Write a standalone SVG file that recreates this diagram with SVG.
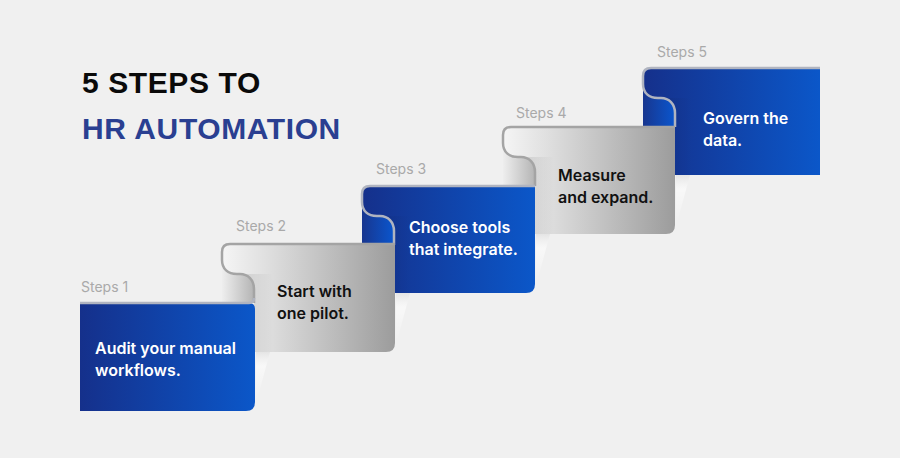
<svg xmlns="http://www.w3.org/2000/svg" width="900" height="458" viewBox="0 0 900 458">
<defs>
<linearGradient id="blueMain" x1="0" y1="0" x2="1" y2="0">
<stop offset="0" stop-color="#15308b"/>
<stop offset="1" stop-color="#0b57c9"/>
</linearGradient>
<linearGradient id="blueUnder" x1="0" y1="0" x2="1" y2="0">
<stop offset="0" stop-color="#18368f"/>
<stop offset="1" stop-color="#0a56ce"/>
</linearGradient>
<linearGradient id="grayMain" x1="0" y1="0" x2="1" y2="0">
<stop offset="0" stop-color="#f5f5f5"/>
<stop offset="0.25" stop-color="#e0e0e0"/>
<stop offset="1" stop-color="#9c9c9c"/>
</linearGradient>
<linearGradient id="grayUnder" x1="0" y1="0" x2="1" y2="0">
<stop offset="0" stop-color="#eeeeee"/>
<stop offset="1" stop-color="#b4b4b4"/>
</linearGradient>
<linearGradient id="shade" x1="0" y1="0" x2="1" y2="0">
<stop offset="0" stop-color="#000" stop-opacity="0.1"/>
<stop offset="1" stop-color="#000" stop-opacity="0"/>
</linearGradient>
<linearGradient id="glint" x1="0" y1="0" x2="0" y2="1">
<stop offset="0" stop-color="#e2e2e2" stop-opacity="0.8"/>
<stop offset="0.3" stop-color="#ffffff" stop-opacity="0.55"/>
<stop offset="1" stop-color="#ffffff" stop-opacity="0"/>
</linearGradient>
<style>
.edgeG{fill:none;stroke:#a4a4a4;stroke-width:2.5}
.edgeB{fill:none;stroke:#b0b4c0;stroke-width:2.5}
.shd{fill:url(#shade)}
.lbl{font-family:Inter,"Liberation Sans",sans-serif;font-size:14px;fill:#a9a9a9}
.tw{font-family:Inter,"Liberation Sans",sans-serif;font-size:16px;font-weight:600;fill:#ffffff}
.tb{font-family:Inter,"Liberation Sans",sans-serif;font-size:16px;font-weight:600;fill:#111111}
.title{font-family:"Liberation Sans",Arial,sans-serif;font-size:30px;font-weight:700;letter-spacing:0.6px}
</style>
</defs>
<rect width="900" height="458" fill="#f0f0f0"/>

<g id="title">
<text class="title" x="82" y="93" fill="#0a0a0a">5 STEPS TO</text>
<text class="title" x="82" y="139" fill="#2a3f91">HR AUTOMATION</text>
</g>

<g id="connectors">
<polygon points="256,352 270,352 257,400 256,400" fill="url(#glint)"/>
<polygon points="396,293 410,293 397,341 396,341" fill="url(#glint)"/>
<polygon points="536,234 550,234 537,282 536,282" fill="url(#glint)"/>
<polygon points="676,175 690,175 677,223 676,223" fill="url(#glint)"/>
</g>

<g id="step5">
<path d="M643,76 Q643,68 651,68 H820 V175 H675 V126 H643 Z" fill="url(#blueMain)"/>
<path d="M643,84 C643,93 649,98 658,98 H661 C669,98 675,104 675,113 V127 H643 Z" fill="url(#blueUnder)"/>
<path class="shd" d="M675,113 C675,106 671,100 666,98 H692 V175 H675 Z" opacity="0.6"/>
<path class="edgeB" d="M820,68 H651 Q643,68 643,76 V84 C643,93 649,98 658,98 H661 C669,98 675,104 675,113 V127"/>
<text class="lbl" x="657" y="57">Steps 5</text>
<text class="tw" x="703" y="124">Govern the</text>
<text class="tw" x="703" y="146">data.</text>
</g>

<g id="step4">
<path d="M503,135 Q503,127 511,127 H675 V225 Q675,234 666,234 H535 V185 H503 Z" fill="url(#grayMain)"/>
<path d="M503,143 C503,152 509,157 518,157 H521 C529,157 535,163 535,172 V186 H503 Z" fill="url(#grayUnder)"/>
<path class="shd" d="M535,172 C535,165 531,159 526,157 H554 V234 H535 Z"/>
<path class="edgeG" d="M675,127 H511 Q503,127 503,135 V143 C503,152 509,157 518,157 H521 C529,157 535,163 535,172 V186"/>
<text class="lbl" x="516" y="118">Steps 4</text>
<text class="tb" x="558" y="181">Measure</text>
<text class="tb" x="558" y="203">and expand.</text>
</g>

<g id="step3">
<path d="M362,194 Q362,186 370,186 H535 V284 Q535,293 526,293 H394 V244 H362 Z" fill="url(#blueMain)"/>
<path d="M362,202 C362,211 368,216 377,216 H380 C388,216 394,222 394,231 V245 H362 Z" fill="url(#blueUnder)"/>
<path class="shd" d="M394,231 C394,224 390,218 385,216 H411 V293 H394 Z" opacity="0.6"/>
<path class="edgeB" d="M535,186 H370 Q362,186 362,194 V202 C362,211 368,216 377,216 H380 C388,216 394,222 394,231 V245"/>
<text class="lbl" x="376" y="174">Steps 3</text>
<text class="tw" x="409" y="233">Choose tools</text>
<text class="tw" x="409" y="255">that integrate.</text>
</g>

<g id="step2">
<path d="M222,252 Q222,244 230,244 H395 V343 Q395,352 386,352 H254 V302 H222 Z" fill="url(#grayMain)"/>
<path d="M222,260 C222,269 228,274 237,274 H240 C248,274 254,280 254,289 V303 H222 Z" fill="url(#grayUnder)"/>
<path class="shd" d="M254,289 C254,282 250,276 245,274 H273 V352 H254 Z"/>
<path class="edgeG" d="M395,244 H230 Q222,244 222,252 V260 C222,269 228,274 237,274 H240 C248,274 254,280 254,289 V303"/>
<text class="lbl" x="236" y="231">Steps 2</text>
<text class="tb" x="277" y="297">Start with</text>
<text class="tb" x="277" y="319">one pilot.</text>
</g>

<g id="step1">
<path d="M80,303 H249 Q255,303 255,309 V402 Q255,411 246,411 H80 Z" fill="url(#blueMain)"/>
<path class="edgeB" d="M80,303 H249 Q254,303 254,298"/>
<text class="lbl" x="81" y="292">Steps 1</text>
<text class="tw" x="95" y="354">Audit your manual</text>
<text class="tw" x="95" y="376">workflows.</text>
</g>
</svg>
